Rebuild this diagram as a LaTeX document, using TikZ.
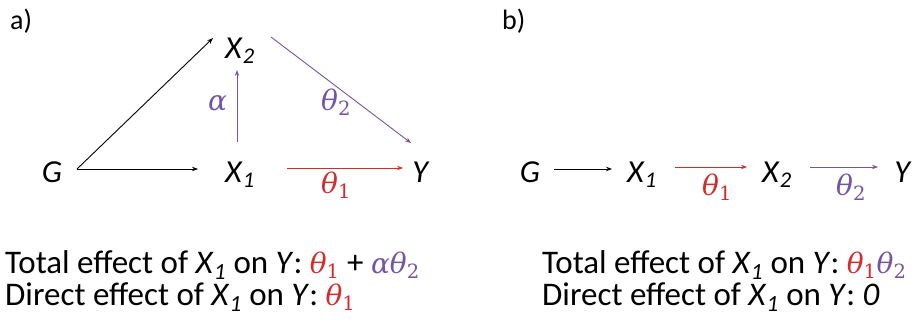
\documentclass[tikz,border=0pt]{standalone}
\usepackage{fontspec}
\setmainfont{Carlito}
\newfontfamily\gk{DejaVu Serif}
\usetikzlibrary{calc,arrows.meta}
\definecolor{cred}{RGB}{210,45,45}
\definecolor{cpur}{RGB}{115,85,165}
\newcommand{\Xs}[1]{\textit{X}\textsubscript{\textit{#1}}}
\newcommand{\gth}[1]{{\gk\itshape θ}\textsubscript{\gk #1}}
\newcommand{\gal}{{\gk\itshape α}}
\newcommand{\gsz}{\fontsize{28}{28}\selectfont}
\tikzset{
  lab/.style={inner sep=0pt, font=\fontsize{32}{32}\selectfont},
  glab/.style={inner sep=0pt, anchor=base west, font=\fontsize{28}{28}\selectfont},
  ptxt/.style={inner sep=0pt, anchor=base west, font=\fontsize{28}{28}\selectfont},
  btxt/.style={inner sep=0pt, anchor=base west, font=\fontsize{33}{33}\selectfont},
  arr/.style={-{Stealth[length=6pt,width=4.5pt]}, line width=0.9pt},
}
\begin{document}
\begin{tikzpicture}[x=1pt,y=-1pt]
\useasboundingbox (0,0) rectangle (919,324);
% panel labels
\node[ptxt] (pa) at (10,29) {a)};
\node[ptxt] (pb) at (502,29) {b)};
% panel a nodes
\node[lab, anchor=base] (Ga) at (52,182) {\textit{G}};
\node[lab, anchor=base west] (X1a) at (225,182) {\Xs{1}};
\node[lab, anchor=base west] (X2a) at (225,58) {\Xs{2}};
\node[lab, anchor=base] (Ya) at (421,182) {\textit{Y}};
% panel a arrows
\draw[arr] ($(Ga.base)+(25,-13)$) -- ($(X1a.base west)+(-27,-13)$);
\draw[arr] ($(Ga.base)+(25,-13)$) -- ($(X2a.base west)+(-12,-20)$);
\draw[arr, cpur] ($(X1a.base west)+(12,-40)$) -- ($(X2a.base west)+(12,12)$);
\draw[arr, cpur] ($(X2a.base west)+(46,-21)$) -- ($(Ya.base)+(-10,-39)$);
\draw[arr, cred] ($(X1a.base west)+(62,-14)$) -- ($(Ya.base)+(-18,-14)$);
\node[glab, cpur] (al) at (208,110) {\gal};
\node[glab, cpur] (t2a) at (321,110) {\gth{2}};
\node[glab, cred] (t1a) at (321,193) {\gth{1}};
% panel b nodes
\node[lab, anchor=base] (Gb) at (530,182) {\textit{G}};
\node[lab, anchor=base west] (X1b) at (627,182) {\Xs{1}};
\node[lab, anchor=base west] (X2b) at (762,182) {\Xs{2}};
\node[lab, anchor=base] (Yb) at (903,182) {\textit{Y}};
\draw[arr] ($(Gb.base)+(24,-13)$) -- ($(X1b.base west)+(-15,-13)$);
\draw[arr, cred] ($(X1b.base west)+(48,-15)$) -- ($(X2b.base west)+(-15,-15)$);
\draw[arr, cpur] ($(X2b.base west)+(48,-15)$) -- ($(Yb.base)+(-25,-15)$);
\node[glab, cred] (t1b) at (702,195) {\gth{1}};
\node[glab, cpur] (t2b) at (836,195) {\gth{2}};
% bottom texts
\node[btxt] (ta) at (5,273) {Total effect of \Xs{1} on \textit{Y}: {\gsz\color{cred}\gth{1}} + {\gsz\color{cpur}\gal\gth{2}}};
\node[btxt] (da) at (5,305) {Direct effect of \Xs{1} on \textit{Y}: {\gsz\color{cred}\gth{1}}};
\node[btxt] (tb) at (542,273) {Total effect of \Xs{1} on \textit{Y}: {\gsz\color{cred}\gth{1}}{\gsz\color{cpur}\gth{2}}};
\node[btxt] (db) at (542,305) {Direct effect of \Xs{1} on \textit{Y}: \textit{0}};
\end{tikzpicture}
\end{document}
